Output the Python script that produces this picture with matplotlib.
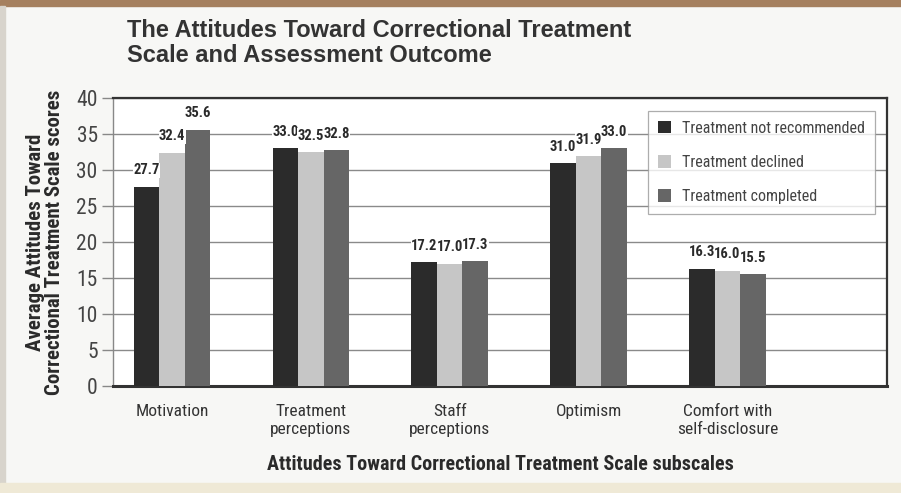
import matplotlib as mpl
import matplotlib.pyplot as plt
import numpy as np
from matplotlib.patches import Rectangle

NARROW = ["Roboto Condensed", "Liberation Sans", "DejaVu Sans"]
mpl.rcParams.update({
    "font.family": NARROW,
    "axes.linewidth": 1.2,
})

# ---------- data ----------
subscales = ["Motivation", "Treatment\nperceptions", "Staff\nperceptions",
             "Optimism", "Comfort with\nself-disclosure"]
not_recommended = [27.7, 33.0, 17.2, 31.0, 16.3]
declined = [32.4, 32.5, 17.0, 31.9, 16.0]
completed = [35.6, 32.8, 17.3, 33.0, 15.5]
series_names = ["Treatment not recommended", "Treatment declined",
                "Treatment completed"]
y_ticks = [0, 5, 10, 15, 20, 25, 30, 35, 40]

COLORS = ["#2b2b2b", "#c6c6c6", "#666666"]
TEXT = "#2a2a2a"

fig = plt.figure(figsize=(9.01, 4.93), dpi=100)
fig.patch.set_facecolor("#f7f7f5")

# page furniture: brown strip on top, side rule, warm band at the bottom
fig.add_artist(Rectangle((0, 0.988), 1, 0.012, transform=fig.transFigure,
                         color="#a5805f", zorder=0))
fig.add_artist(Rectangle((0.0, 0.0), 0.006, 0.988, transform=fig.transFigure,
                         color="#d8d4cc", zorder=0))
fig.add_artist(Rectangle((0.0, 0.0), 1, 0.02, transform=fig.transFigure,
                         color="#efe9d6", zorder=0))

ax = fig.add_axes([0.1254, 0.217, 0.859, 0.584])
ax.set_facecolor("white")

x = np.arange(len(subscales))
w = 0.184
for k, (vals, col, name) in enumerate(zip([not_recommended, declined, completed],
                                          COLORS, series_names)):
    pos = x + (k - 1) * w
    ax.bar(pos, vals, w, color=col, label=name, zorder=3)
    for px, v in zip(pos, vals):
        ax.text(px, v + 1.3, f"{v:.1f}", ha="center", va="bottom",
                fontsize=10.5, fontweight="bold", color=TEXT, zorder=4,
                bbox=dict(facecolor="white", edgecolor="none", pad=0.2))

ax.set_xlim(-0.426, 5.15)
ax.set_ylim(0, 40)
ax.set_yticks(y_ticks)
ax.set_yticklabels([str(t) for t in y_ticks], fontsize=15.5, color="#444444")
ax.set_xticks(x)
ax.set_xticklabels(subscales, fontsize=12.5, color="#333333", linespacing=1.25)
ax.tick_params(axis="x", length=0, pad=13)
ax.tick_params(axis="y", length=8, width=1.0, color="#888888", pad=3)
ax.grid(axis="y", color="#8a8a8a", linewidth=1.0, zorder=1)

for side in ["top", "right"]:
    ax.spines[side].set_color("#333333")
    ax.spines[side].set_linewidth(1.6)
ax.spines["left"].set_color("#888888")
ax.spines["left"].set_linewidth(1.0)
ax.spines["bottom"].set_color("#333333")
ax.spines["bottom"].set_linewidth(2.2)

ax.set_xlabel("Attitudes Toward Correctional Treatment Scale subscales",
              fontsize=14.5, fontweight="bold", color=TEXT, labelpad=13)
ax.set_ylabel("Average Attitudes Toward\nCorrectional Treatment Scale scores",
              fontsize=15, fontweight="bold", color=TEXT, labelpad=9,
              linespacing=0.95)

leg = ax.legend(loc="upper right", bbox_to_anchor=(0.9845, 0.955), fontsize=11.5,
                frameon=True, fancybox=False, edgecolor="#999999",
                handlelength=0.85, handleheight=0.85, labelspacing=1.2,
                borderpad=0.6, handletextpad=0.7, borderaxespad=0.0)
leg.get_frame().set_linewidth(0.9)
for t in leg.get_texts():
    t.set_color("#444444")
leg.set_zorder(5)

fig.text(0.141, 0.962, "The Attitudes Toward Correctional Treatment\n"
         "Scale and Assessment Outcome", ha="left", va="top",
         fontsize=17, fontweight="bold", color="#333333",
         family=["Liberation Sans", "DejaVu Sans"], linespacing=1.1)

fig.savefig("out.png", dpi=100, facecolor=fig.get_facecolor())
